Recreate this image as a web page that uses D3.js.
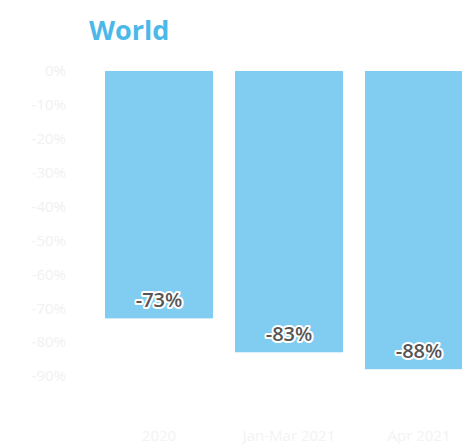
<!DOCTYPE html>
<html>
<head>
<meta charset="utf-8">
<script src="https://cdn.jsdelivr.net/npm/d3@7"></script>
<style>
  body { margin: 0; background: #fff; }
  svg { display: block; }
</style>
</head>
<body>
<script>
// chart data
const categories = ["2020", "Jan-Mar 2021", "Apr 2021"];
const values = [-73, -83, -88];
const tickValues = [0, -10, -20, -30, -40, -50, -60, -70, -80, -90];

const width = 462;
const height = 444;

var svg = d3.select("body").append("svg")
  .attr("width", width)
  .attr("height", height);

// title
svg.append("text")
  .attr("x", 89)
  .attr("y", 40)
  .style("font-family", "'Open Sans', sans-serif")
  .style("font-weight", "bold")
  .style("font-size", "27px")
  .style("fill", "#4cb8ea")
  .text("World");

// scales
var x = d3.scaleBand()
  .domain(categories)
  .range([94, 484])
  .paddingInner(22 / 130)
  .paddingOuter(11 / 130);

var y = d3.scaleLinear()
  .domain([0, -90])
  .range([71, 376]);

// y axis (very faint labels, no line)
var yAxis = svg.append("g")
  .attr("transform", "translate(66,0)")
  .call(d3.axisLeft(y).tickValues(tickValues).tickSize(0).tickPadding(0)
    .tickFormat(d => d + "%"));
yAxis.select(".domain").remove();
yAxis.selectAll("text")
  .style("font-family", "'Open Sans', sans-serif")
  .style("font-size", "15px")
  .style("fill", "#f1f1f1");

// bars
svg.selectAll("rect.bar")
  .data(values)
  .enter().append("rect")
  .attr("class", "bar")
  .attr("x", (d, i) => x(categories[i]))
  .attr("y", y(0))
  .attr("width", x.bandwidth())
  .attr("height", d => y(d) - y(0))
  .style("fill", "#80cdf1");

// value labels with white halo
svg.selectAll("text.val")
  .data(values)
  .enter().append("text")
  .attr("class", "val")
  .attr("x", (d, i) => x(categories[i]) + x.bandwidth() / 2)
  .attr("y", d => y(d) - 11)
  .attr("text-anchor", "middle")
  .style("font-family", "'Open Sans', sans-serif")
  .style("font-weight", "600")
  .style("font-size", "20px")
  .style("fill", "#555")
  .style("stroke", "#fff")
  .style("stroke-width", "4px")
  .style("stroke-linejoin", "round")
  .style("paint-order", "stroke")
  .text(d => d + "%");

// x axis labels (very faint)
svg.selectAll("text.cat")
  .data(categories)
  .enter().append("text")
  .attr("class", "cat")
  .attr("x", d => x(d) + x.bandwidth() / 2)
  .attr("y", 441)
  .attr("text-anchor", "middle")
  .style("font-family", "'Open Sans', sans-serif")
  .style("font-size", "15px")
  .style("fill", "#f3f3f3")
  .text(d => d);
</script>
</body>
</html>
